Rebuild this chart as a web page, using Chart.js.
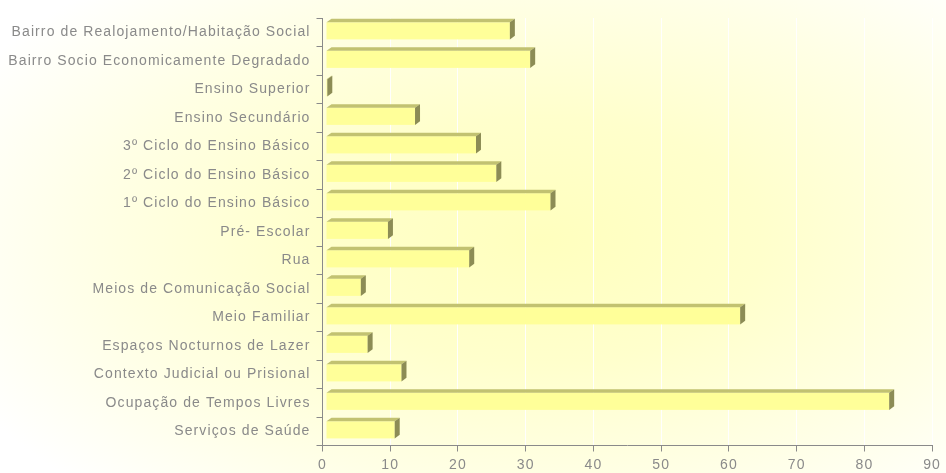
<!DOCTYPE html>
<html>
<head>
<meta charset="utf-8">
<script src="https://cdn.jsdelivr.net/npm/chart.js@4.4.1/dist/chart.umd.min.js"></script>
<style>
html,body{margin:0;padding:0;background:#fff;}
#wrap{width:946px;height:473px;position:relative;}
</style>
</head>
<body>
<div id="wrap"><canvas id="c" width="946" height="473"></canvas></div>
<script>
const categories = [
  "Bairro de Realojamento/Habitação Social",
  "Bairro Socio Economicamente Degradado",
  "Ensino Superior",
  "Ensino Secundário",
  "3º Ciclo do Ensino Básico",
  "2º Ciclo do Ensino Básico",
  "1º Ciclo do Ensino Básico",
  "Pré- Escolar",
  "Rua",
  "Meios de Comunicação Social",
  "Meio Familiar",
  "Espaços Nocturnos de Lazer",
  "Contexto Judicial ou Prisional",
  "Ocupação de Tempos Livres",
  "Serviços de Saúde"
];
const values = [28, 31, 1, 14, 23, 26, 34, 10, 22, 6, 62, 7, 12, 84, 11];
const xTicks = [0, 10, 20, 30, 40, 50, 60, 70, 80, 90];

const TEXT = '#8a8a8a';
const AXIS = '#8a8a8a';
const SPACING = '1.1px';

const bgPlugin = {
  id: 'bg',
  beforeUpdate(chart) { chart.ctx.letterSpacing = SPACING; },
  beforeDraw(chart) {
    const ctx = chart.ctx;
    ctx.save();
    ctx.fillStyle = '#ffffff';
    ctx.fillRect(0, 0, chart.width, chart.height);
    ctx.translate(540, 240);
    ctx.scale(1, 0.55);
    const g = ctx.createRadialGradient(0, 0, 0, 0, 0, 640);
    g.addColorStop(0, 'rgba(255,255,190,1)');
    g.addColorStop(0.35, 'rgba(255,255,204,1)');
    g.addColorStop(0.7, 'rgba(255,255,230,1)');
    g.addColorStop(1, 'rgba(255,255,255,1)');
    ctx.fillStyle = g;
    ctx.fillRect(-700, -700, 1400, 1400);
    ctx.restore();
    chart.ctx.letterSpacing = SPACING;
  }
};

const bars3d = {
  id: 'bars3d',
  afterDatasetsDraw(chart) {
    const ctx = chart.ctx;
    const meta = chart.getDatasetMeta(0);
    ctx.save();
    const dx = 5, dy = 3.6, shift = 1.4;
    meta.data.forEach((el) => {
      const p = el.getProps(['x', 'y', 'base', 'height'], true);
      const left = p.base + 3.5;
      const right = Math.max(p.x - 2.3, left + 0.8);
      const top = p.y - p.height / 2 - shift;
      const bottom = p.y + p.height / 2 - shift;
      ctx.fillStyle = '#ffff99';
      ctx.fillRect(left, top, right - left, bottom - top);
      ctx.fillStyle = '#c2c271';
      ctx.beginPath();
      ctx.moveTo(left, top);
      ctx.lineTo(left + dx, top - dy);
      ctx.lineTo(right + dx, top - dy);
      ctx.lineTo(right, top);
      ctx.closePath();
      ctx.fill();
      ctx.fillStyle = '#8c8c55';
      ctx.beginPath();
      ctx.moveTo(right, top);
      ctx.lineTo(right + dx, top - dy);
      ctx.lineTo(right + dx, bottom - dy);
      ctx.lineTo(right, bottom);
      ctx.closePath();
      ctx.fill();
    });
    ctx.restore();
  }
};

new Chart(document.getElementById('c'), {
  type: 'bar',
  data: {
    labels: categories,
    datasets: [{
      data: values,
      backgroundColor: 'rgba(0,0,0,0)',
      borderWidth: 0,
      barPercentage: 0.6,
      categoryPercentage: 1.0
    }]
  },
  plugins: [bgPlugin, bars3d],
  options: {
    indexAxis: 'y',
    responsive: false,
    animation: false,
    devicePixelRatio: 1,
    layout: { padding: { top: 18, right: 11, bottom: 0, left: 0 } },
    plugins: { legend: { display: false }, tooltip: { enabled: false } },
    scales: {
      x: {
        type: 'linear',
        min: 0,
        max: 90,
        afterBuildTicks(scale) { scale.ticks = xTicks.map(v => ({ value: v })); },
        afterFit(scale) { scale.height = 27.5; },
        grid: {
          color: 'rgba(255,255,255,0.95)',
          lineWidth: 1,
          tickColor: AXIS,
          tickLength: 6,
          drawOnChartArea: true
        },
        border: { color: AXIS, width: 1 },
        ticks: {
          color: TEXT,
          font: { family: 'Liberation Sans, Arial, sans-serif', size: 14 },
          padding: 5,
          maxRotation: 0
        }
      },
      y: {
        type: 'category',
        afterFit(scale) { scale.width = 322.5; },
        grid: {
          offset: true,
          drawOnChartArea: false,
          tickColor: AXIS,
          tickLength: 6
        },
        border: { color: AXIS, width: 1 },
        ticks: {
          color: TEXT,
          font: { family: 'Liberation Sans, Arial, sans-serif', size: 14 },
          padding: 6,
          autoSkip: false
        }
      }
    }
  }
});
</script>
</body>
</html>
